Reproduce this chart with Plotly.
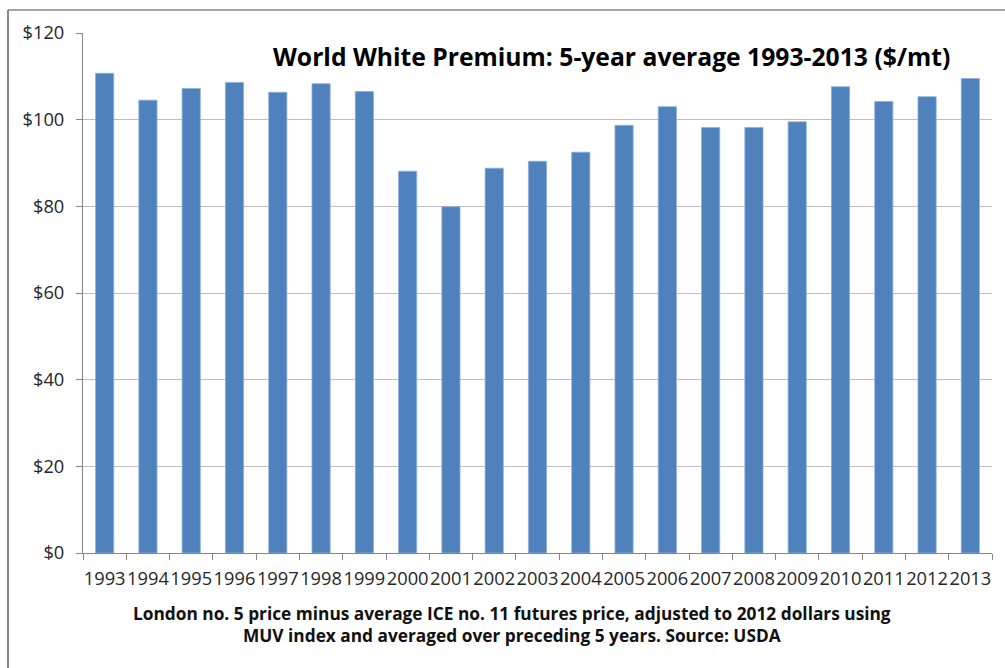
import plotly.graph_objects as go

years = [str(y) for y in range(1993, 2014)]
premium = [110.7, 104.5, 107.2, 108.6, 106.3, 108.3, 106.5, 88.1, 79.9, 88.8,
           90.4, 92.5, 98.7, 103.0, 98.2, 98.2, 99.5, 107.6, 104.2, 105.3, 109.5]

title_text = "World White Premium: 5-year average 1993-2013 ($/mt)"
xtitle_text = ("London no. 5 price minus average ICE no. 11 futures price, adjusted to 2012 dollars using"
               "<br>MUV index and averaged over preceding 5 years. Source: USDA")

FONT = "Open Sans"
W, H = 1005, 668
L, R, T, B = 83, 13, 33, 115
pw, ph = W - L - R, H - T - B

fig = go.Figure(go.Bar(
    x=years, y=premium,
    marker=dict(color="#4F81BD", line=dict(color="#8EAEDB", width=0.8)),
    width=0.42,
))

fig.update_layout(
    width=W, height=H,
    margin=dict(l=L, r=R, t=T, b=B, pad=0),
    paper_bgcolor="white", plot_bgcolor="white",
    font=dict(family=FONT, color="#222222"),
    showlegend=False,
    xaxis=dict(
        type="category", tickson="boundaries", ticks="outside", ticklen=6,
        tickcolor="#868686", showline=True, linecolor="#868686", linewidth=1,
        showgrid=False, tickfont=dict(size=18.3, family=FONT, color="#262626"),
        tickangle=0, ticklabelstandoff=9,
    ),
    yaxis=dict(
        range=[0, 120], dtick=20, tickprefix="$", ticks="outside", ticklen=6,
        tickcolor="#868686", showline=True, linecolor="#868686", linewidth=1,
        showgrid=True, gridcolor="#BEBEBE", gridwidth=1, zeroline=False,
        tickfont=dict(size=18.3, family=FONT, color="#262626"),
        ticklabelstandoff=8,
    ),
    annotations=[
        dict(text="<b>" + title_text + "</b>", xref="paper", yref="paper",
             x=(611 - L) / pw, y=(553 - 57) / ph, xanchor="center", yanchor="middle",
             showarrow=False, font=dict(size=24.7, family=FONT, color="black")),
        dict(text="<b>" + xtitle_text + "</b>", xref="paper", yref="paper",
             x=(512 - L) / pw, y=(553 - 624) / ph, xanchor="center", yanchor="middle",
             showarrow=False, font=dict(size=17.3, family=FONT, color="#111111"),
             align="center"),
    ],
    shapes=[
        dict(type="line", xref="paper", yref="paper",
             x0=(8 - L) / pw, x1=(1010 - L) / pw, y0=1 + (T - 10) / ph, y1=1 + (T - 10) / ph,
             line=dict(color="#878787", width=1.5)),
        dict(type="line", xref="paper", yref="paper",
             x0=(8 - L) / pw, x1=(8 - L) / pw, y0=1 + (T - 10) / ph, y1=-(B + 5) / ph,
             line=dict(color="#878787", width=2)),
    ],
)

fig.write_html("out.html")
